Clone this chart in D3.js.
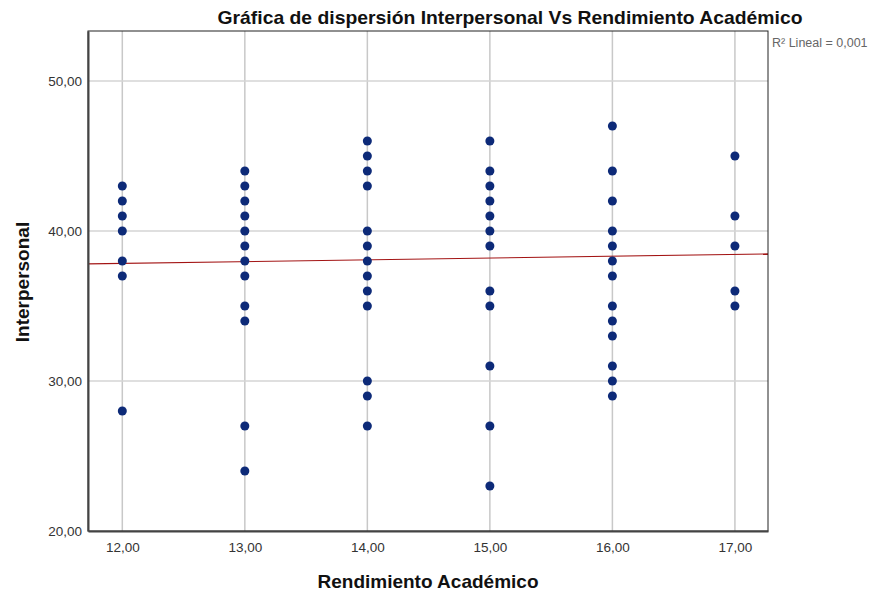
<!DOCTYPE html>
<html lang="en">
<head>
<meta charset="UTF-8">
<title>Gráfica de dispersión Interpersonal Vs Rendimiento Académico</title>
<style>
    html, body { margin: 0; padding: 0; background: #fff; font-family: 'Liberation Sans', Arial, sans-serif; }
    svg { display: block; }
</style>
</head>
<body>
<div id="chart"></div>
<script src="https://d3js.org/d3.v7.min.js"></script>
<script>
    // data
    const rendimiento = [12, 13, 14, 15, 16, 17];
    const interpersonal = [
        [43, 42, 41, 40, 38, 37, 28],
        [44, 43, 42, 41, 40, 39, 38, 37, 35, 34, 27, 24],
        [46, 45, 44, 43, 40, 39, 38, 37, 36, 35, 30, 29, 27],
        [46, 44, 43, 42, 41, 40, 39, 36, 35, 31, 27, 23],
        [47, 44, 42, 40, 39, 38, 37, 35, 34, 33, 31, 30, 29],
        [45, 41, 39, 36, 35]
    ];
    const xTicks = [12, 13, 14, 15, 16, 17];
    const yTicks = [20, 30, 40, 50];
    const fitX = [11.72, 17.27];
    const fitY = [37.8, 38.47];

    const W = 872, H = 595;
    const margin = {top: 31, left: 88, right: 104, bottom: 64};
    const width = W - margin.left - margin.right;
    const height = H - margin.top - margin.bottom;
    const fmt = d => d.toFixed(2).replace(".", ",");

    const points = [];
    rendimiento.forEach((r, i) => interpersonal[i].forEach(v => points.push({x: r, y: v})));

    const svg = d3.select("#chart").append("svg")
        .attr("width", W).attr("height", H);

    const x = d3.scaleLinear().domain([11.72, 17.27]).range([0, width]);
    const y = d3.scaleLinear().domain([20, 53.33]).range([height, 0]);

    const g = svg.append("g").attr("transform", `translate(${margin.left},${margin.top})`);

    // grid
    g.append("g").selectAll("line").data(xTicks).enter().append("line")
        .attr("x1", d => x(d)).attr("x2", d => x(d))
        .attr("y1", 0).attr("y2", height)
        .attr("stroke", "#c8c8c8").attr("stroke-width", 1.5);
    g.append("g").selectAll("line").data(yTicks.filter(d => d > 20)).enter().append("line")
        .attr("x1", 0).attr("x2", width)
        .attr("y1", d => y(d)).attr("y2", d => y(d))
        .attr("stroke", "#d4d4d4").attr("stroke-width", 1.5);

    // fit line
    g.append("line")
        .attr("x1", x(fitX[0])).attr("y1", y(fitY[0]))
        .attr("x2", x(fitX[1])).attr("y2", y(fitY[1]))
        .attr("stroke", "#a31414").attr("stroke-width", 1.2);

    // dots
    g.append("g").selectAll("circle").data(points).enter().append("circle")
        .attr("cx", d => x(d.x)).attr("cy", d => y(d.y))
        .attr("r", 4.5).attr("fill", "#0d2a78");

    // frame
    g.append("rect").attr("width", width).attr("height", height)
        .attr("fill", "none").attr("stroke", "#222").attr("stroke-width", 1);

    // axes
    const xAxis = d3.axisBottom(x).tickValues(xTicks).tickFormat(fmt).tickSize(0).tickPadding(11);
    const gx = g.append("g").attr("transform", `translate(0,${height})`).call(xAxis);
    const yAxis = d3.axisLeft(y).tickValues(yTicks).tickFormat(fmt).tickSize(0).tickPadding(6);
    const gy = g.append("g").call(yAxis);
    [gx, gy].forEach(a => {
        a.select(".domain").attr("stroke", "#444").attr("stroke-width", 2);
        a.selectAll("text").attr("font-family", "'Liberation Sans', Arial, sans-serif")
            .attr("font-size", 13.5).attr("fill", "#333");
    });

    // titles
    svg.append("text").attr("x", 510).attr("y", 24).attr("text-anchor", "middle")
        .attr("font-size", 19).attr("font-weight", "bold").attr("fill", "#111")
        .attr("textLength", 585).attr("lengthAdjust", "spacingAndGlyphs")
        .text("Gráfica de dispersión Interpersonal Vs Rendimiento Académico");
    svg.append("text").attr("x", margin.left + width / 2).attr("y", 588).attr("text-anchor", "middle")
        .attr("font-size", 19).attr("font-weight", "bold").attr("fill", "#111")
        .text("Rendimiento Académico");
    svg.append("text").attr("transform", `translate(29,${margin.top + height / 2 + 1}) rotate(-90)`)
        .attr("text-anchor", "middle")
        .attr("font-size", 19).attr("font-weight", "bold").attr("fill", "#111")
        .text("Interpersonal");
    svg.append("text").attr("x", 772).attr("y", 47)
        .attr("font-size", 12.5).attr("fill", "#666")
        .text("R² Lineal = 0,001");
</script>
</body>
</html>
